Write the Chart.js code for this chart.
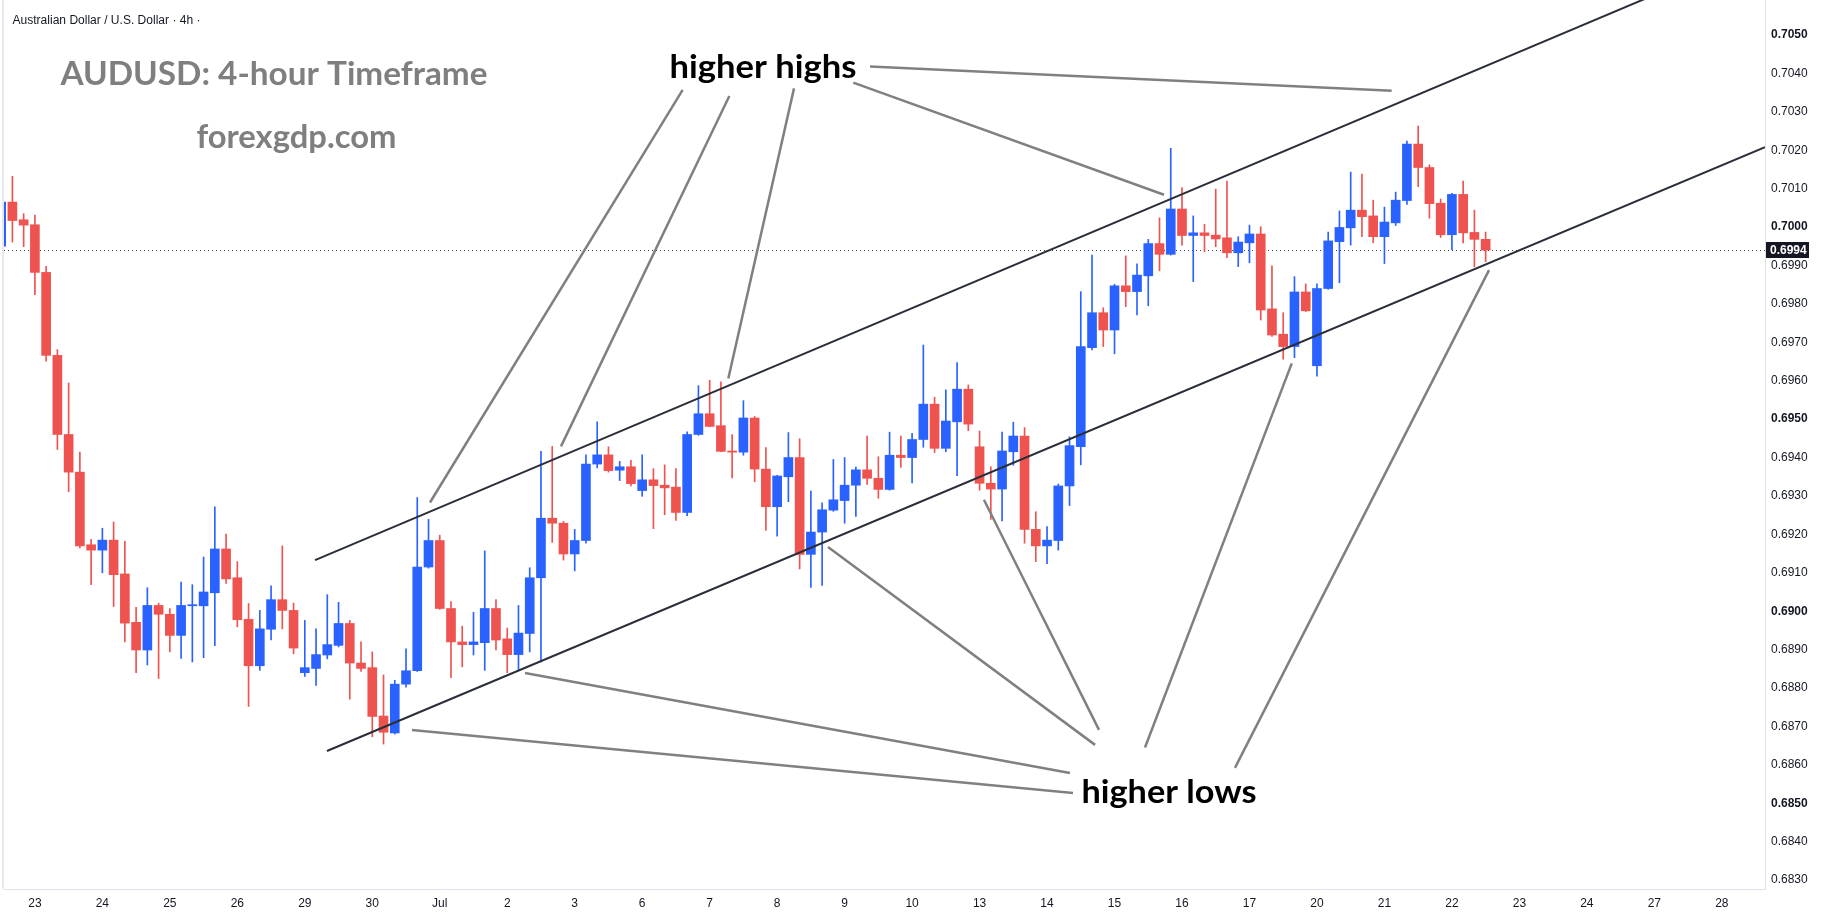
<!DOCTYPE html>
<html lang="en">
<head>
<meta charset="UTF-8">
<title>AUDUSD 4h</title>
<style>
    body { margin: 0; padding: 0; background: #fff; }
    #wrap { width: 1823px; height: 920px; }
</style>
</head>
<body>
<div id="wrap"><canvas id="chart" width="1823" height="920"></canvas></div>

<script src="https://cdn.jsdelivr.net/npm/chart.js"></script>
<script>
// bar numbers start at -1 (the candle cut by the left edge)
const firstBar = -1;

const opens = [
    0.69950, 0.70065, 0.70019, 0.70006, 0.69882, 0.69666, 0.69460, 0.69362, 0.69173, 0.69159,
    0.69185, 0.69097, 0.68971, 0.68899, 0.69015, 0.68992, 0.68937, 0.69014, 0.69014, 0.69048,
    0.69162, 0.69087, 0.68979, 0.68858, 0.68953, 0.69030, 0.69002, 0.68840, 0.68851, 0.68886,
    0.68911, 0.68968, 0.68865, 0.68853, 0.68727, 0.68683, 0.68810, 0.68845, 0.69115, 0.69184,
    0.69007, 0.68920, 0.68913, 0.68918, 0.69007, 0.68928, 0.68887, 0.68942, 0.69087, 0.69242,
    0.69229, 0.69149, 0.69184, 0.69383, 0.69407, 0.69367, 0.69376, 0.69314, 0.69342, 0.69328,
    0.69323, 0.69257, 0.69460, 0.69514, 0.69483, 0.69417, 0.69414, 0.69503, 0.69370, 0.69272,
    0.69350, 0.69400, 0.69148, 0.69206, 0.69263, 0.69288, 0.69328, 0.69368, 0.69346, 0.69317,
    0.69406, 0.69400, 0.69447, 0.69539, 0.69424, 0.69493, 0.69578, 0.69428, 0.69333, 0.69318,
    0.69415, 0.69456, 0.69213, 0.69170, 0.69184, 0.69326, 0.69428, 0.69686, 0.69777, 0.69732,
    0.69847, 0.69832, 0.69873, 0.69957, 0.69929, 0.70047, 0.69978, 0.69985, 0.69979, 0.69972,
    0.69933, 0.69959, 0.69982, 0.69787, 0.69721, 0.69689, 0.69831, 0.69639, 0.69840, 0.69962,
    0.69998, 0.70044, 0.70029, 0.69975, 0.70011, 0.70069, 0.70216, 0.70155, 0.70062, 0.69980,
    0.70085, 0.69986, 0.69968
];
const highs = [
    0.70075, 0.70132, 0.70035, 0.70031, 0.69898, 0.69681, 0.69594, 0.69414, 0.69187, 0.69216,
    0.69232, 0.69182, 0.69010, 0.69061, 0.69021, 0.69007, 0.69076, 0.69069, 0.69141, 0.69272,
    0.69201, 0.69129, 0.69020, 0.69002, 0.69066, 0.69170, 0.69021, 0.68976, 0.68954, 0.69043,
    0.69023, 0.68976, 0.68920, 0.68894, 0.68834, 0.68820, 0.68902, 0.69296, 0.69239, 0.69198,
    0.69025, 0.68961, 0.68997, 0.69157, 0.69030, 0.68956, 0.69015, 0.69113, 0.69416, 0.69429,
    0.69234, 0.69213, 0.69407, 0.69493, 0.69428, 0.69390, 0.69393, 0.69407, 0.69371, 0.69381,
    0.69371, 0.69467, 0.69587, 0.69601, 0.69597, 0.69460, 0.69548, 0.69507, 0.69426, 0.69354,
    0.69465, 0.69449, 0.69313, 0.69282, 0.69395, 0.69400, 0.69375, 0.69456, 0.69402, 0.69466,
    0.69456, 0.69463, 0.69693, 0.69557, 0.69576, 0.69647, 0.69589, 0.69469, 0.69376, 0.69466,
    0.69492, 0.69478, 0.69259, 0.69220, 0.69331, 0.69454, 0.69832, 0.69927, 0.69790, 0.69851,
    0.69925, 0.69904, 0.69968, 0.70024, 0.70205, 0.70103, 0.70029, 0.70007, 0.70099, 0.70120,
    0.69975, 0.70005, 0.70001, 0.69899, 0.69777, 0.69871, 0.69852, 0.69852, 0.69987, 0.70042,
    0.70143, 0.70138, 0.70070, 0.70052, 0.70091, 0.70224, 0.70263, 0.70162, 0.70073, 0.70088,
    0.70120, 0.70044, 0.69987
];
const lows = [
    0.69945, 0.69961, 0.69949, 0.69824, 0.69651, 0.69421, 0.69311, 0.69165, 0.69069, 0.69100,
    0.69012, 0.68920, 0.68840, 0.68860, 0.68825, 0.68894, 0.68877, 0.68868, 0.68879, 0.68910,
    0.69072, 0.68959, 0.68752, 0.68846, 0.68925, 0.68954, 0.68889, 0.68830, 0.68807, 0.68876,
    0.68907, 0.68771, 0.68843, 0.68673, 0.68654, 0.68680, 0.68802, 0.68843, 0.69112, 0.69005,
    0.68827, 0.68855, 0.68886, 0.68846, 0.68899, 0.68840, 0.68848, 0.68894, 0.68868, 0.69179,
    0.69133, 0.69105, 0.69177, 0.69373, 0.69362, 0.69340, 0.69326, 0.69299, 0.69215, 0.69251,
    0.69236, 0.69249, 0.69458, 0.69480, 0.69415, 0.69347, 0.69406, 0.69337, 0.69210, 0.69195,
    0.69285, 0.69110, 0.69062, 0.69067, 0.69260, 0.69229, 0.69247, 0.69330, 0.69294, 0.69315,
    0.69374, 0.69334, 0.69427, 0.69413, 0.69415, 0.69353, 0.69470, 0.69315, 0.69239, 0.69235,
    0.69380, 0.69177, 0.69129, 0.69124, 0.69159, 0.69275, 0.69381, 0.69680, 0.69689, 0.69670,
    0.69793, 0.69771, 0.69795, 0.69886, 0.69927, 0.69953, 0.69858, 0.69936, 0.69949, 0.69920,
    0.69897, 0.69907, 0.69758, 0.69715, 0.69656, 0.69660, 0.69780, 0.69612, 0.69838, 0.69855,
    0.69953, 0.69975, 0.69959, 0.69905, 0.70004, 0.70059, 0.70105, 0.70023, 0.69973, 0.69941,
    0.69959, 0.69897, 0.69910
];
const closes = [
    0.70065, 0.70017, 0.70005, 0.69882, 0.69666, 0.69460, 0.69362, 0.69170, 0.69159, 0.69185,
    0.69095, 0.68969, 0.68899, 0.69015, 0.68992, 0.68937, 0.69015, 0.69017, 0.69050, 0.69162,
    0.69084, 0.68978, 0.68858, 0.68954, 0.69030, 0.69002, 0.68904, 0.68853, 0.68887, 0.68913,
    0.68968, 0.68865, 0.68851, 0.68726, 0.68685, 0.68810, 0.68845, 0.69115, 0.69184, 0.69007,
    0.68920, 0.68913, 0.68920, 0.69007, 0.68925, 0.68887, 0.68943, 0.69087, 0.69242, 0.69229,
    0.69149, 0.69184, 0.69383, 0.69407, 0.69366, 0.69376, 0.69332, 0.69342, 0.69327, 0.69321,
    0.69257, 0.69460, 0.69514, 0.69481, 0.69416, 0.69414, 0.69503, 0.69370, 0.69272, 0.69352,
    0.69400, 0.69148, 0.69206, 0.69264, 0.69290, 0.69328, 0.69368, 0.69346, 0.69317, 0.69406,
    0.69400, 0.69447, 0.69539, 0.69424, 0.69495, 0.69578, 0.69487, 0.69333, 0.69318, 0.69417,
    0.69456, 0.69213, 0.69170, 0.69185, 0.69326, 0.69431, 0.69689, 0.69777, 0.69732, 0.69847,
    0.69832, 0.69875, 0.69957, 0.69929, 0.70047, 0.69978, 0.69985, 0.69978, 0.69969, 0.69933,
    0.69961, 0.69982, 0.69784, 0.69719, 0.69689, 0.69831, 0.69782, 0.69840, 0.69964, 0.69999,
    0.70044, 0.70027, 0.69975, 0.70013, 0.70070, 0.70216, 0.70155, 0.70061, 0.69980, 0.70085,
    0.69985, 0.69968, 0.69940
];
const lastPrice = 0.6994;

// time axis: first 4h bar of each day and its label
const dayBars = [2, 8, 14, 20, 26, 32, 38, 44, 50, 56, 62, 68, 74, 80, 86, 92, 98, 104, 110, 116, 122, 128, 134, 140, 146, 152];
const dayLabels = ['23', '24', '25', '26', '29', '30', 'Jul', '2', '3', '6', '7', '8', '9', '10', '13', '14', '15', '16', '17', '20', '21', '22', '23', '24', '27', '28'];

// visible ranges
const barMin = -0.747, barMax = 155.84;
const priceMin = 0.682768, priceMax = 0.705911;

// drawings, as [bar, price] pairs
const upperChannel = [[26.91, 0.69133], [155.84, 0.70726]];
const lowerChannel = [[27.97, 0.68636], [155.84, 0.70208]];
const highPointers = [
    [[59.60, 0.70357], [37.13, 0.69283]],
    [[63.75, 0.70341], [48.78, 0.69429]],
    [[69.50, 0.70361], [63.66, 0.69606]],
    [[74.77, 0.70376], [102.40, 0.70084]],
    [[76.26, 0.70418], [122.64, 0.70355]]
];
const lowPointers = [
    [[35.53, 0.68691], [94.31, 0.68527]],
    [[45.58, 0.68839], [94.04, 0.68579]],
    [[72.52, 0.69167], [96.27, 0.68652]],
    [[86.39, 0.69290], [96.62, 0.68691]],
    [[100.71, 0.68645], [113.76, 0.69645]],
    [[108.71, 0.68592], [131.30, 0.69888]]
];

const UP = '#2962FF', DOWN = '#EF5350';

const bars = opens.map((o, k) => firstBar + k);
const candleColors = opens.map((o, k) => closes[k] >= o ? UP : DOWN);
const wickData = bars.map((x, k) => ({x: x, y: [lows[k], highs[k]]}));
const bodyData = bars.map((x, k) => ({x: x, y: [opens[k], closes[k]]}));

function segment(pts, color, width) {
    return {
        type: 'line',
        data: pts.map(p => ({x: p[0], y: p[1]})),
        borderColor: color,
        borderWidth: width,
        pointRadius: 0,
        fill: false,
        tension: 0,
        order: 0
    };
}

function fitText(ctx, text, x, baseline, width, font, color) {
    ctx.save();
    ctx.font = font;
    ctx.fillStyle = color;
    ctx.textAlign = 'left';
    ctx.textBaseline = 'alphabetic';
    const w = ctx.measureText(text).width;
    ctx.translate(x, baseline);
    ctx.scale(width / w, 1);
    ctx.fillText(text, 0, 0);
    ctx.restore();
}

const overlay = {
    id: 'overlay',
    beforeDatasetsDraw(chart) {
        const {ctx, chartArea} = chart;
        const yp = Math.round(chart.scales.y.getPixelForValue(lastPrice)) + 0.5;
        ctx.save();
        ctx.strokeStyle = '#3b3f4a';
        ctx.lineWidth = 1;
        ctx.setLineDash([1, 3]);
        ctx.beginPath();
        ctx.moveTo(chartArea.left, yp);
        ctx.lineTo(chartArea.right, yp);
        ctx.stroke();
        ctx.restore();
    },
    afterDraw(chart) {
        const {ctx, chartArea} = chart;
        const yScale = chart.scales.y;

        // pane left edge
        ctx.save();
        ctx.fillStyle = '#E6E9F0';
        ctx.fillRect(2, 0, 2, chartArea.bottom);
        ctx.restore();

        // last price tag
        const yp = Math.round(yScale.getPixelForValue(lastPrice));
        ctx.save();
        ctx.fillStyle = '#131722';
        ctx.fillRect(yScale.left + 1, yp - 8, 43, 16);
        ctx.fillStyle = '#ffffff';
        ctx.font = 'bold 12px "Liberation Sans"';
        ctx.textBaseline = 'middle';
        ctx.fillText(lastPrice.toFixed(4), yScale.left + 5, yp + 1);
        ctx.restore();

        fitText(ctx, 'Australian Dollar / U.S. Dollar \u00b7 4h \u00b7', 12.5, 24, 188, '12px "Liberation Sans"', '#131722');
        fitText(ctx, 'AUDUSD: 4-hour Timeframe', 60.5, 84.5, 427, 'bold 32px Lato', '#7f7f7f');
        fitText(ctx, 'forexgdp.com', 196.5, 147.5, 200, 'bold 32px Lato', '#7f7f7f');
        fitText(ctx, 'higher highs', 669.5, 77.5, 187, 'bold 33px Lato', '#000000');
        fitText(ctx, 'higher lows', 1081.5, 803, 175, 'bold 33px Lato', '#000000');
    }
};

const datasets = [
    segment(upperChannel, '#2a2e39', 2),
    segment(lowerChannel, '#2a2e39', 2)
];
highPointers.concat(lowPointers).forEach(p => datasets.push(segment(p, '#808080', 2.5)));
datasets.push({
    type: 'bar',
    data: bodyData,
    backgroundColor: candleColors,
    barThickness: 9,
    minBarLength: 1,
    grouped: false,
    order: 1
});
datasets.push({
    type: 'bar',
    data: wickData,
    backgroundColor: candleColors,
    barThickness: 1,
    grouped: false,
    order: 2
});

new Chart(document.getElementById('chart'), {
    type: 'bar',
    data: { datasets: datasets },
    plugins: [overlay],
    options: {
        responsive: false,
        animation: false,
        devicePixelRatio: 1,
        layout: { padding: { left: 4, top: 0, right: 0, bottom: 0 } },
        plugins: {
            legend: { display: false },
            tooltip: { enabled: false }
        },
        scales: {
            x: {
                type: 'linear',
                min: barMin,
                max: barMax,
                offset: false,
                grid: { display: false, drawTicks: false },
                border: { display: true, color: '#E0E3EB' },
                afterBuildTicks: s => { s.ticks = dayBars.map(v => ({value: v})); },
                afterFit: s => { s.height = 31; s.paddingLeft = 0; s.paddingRight = 0; },
                ticks: {
                    autoSkip: false,
                    maxRotation: 0,
                    minRotation: 0,
                    padding: 7,
                    color: '#131722',
                    font: { size: 12, family: '"Liberation Sans"' },
                    callback: (v, k) => dayLabels[k]
                }
            },
            y: {
                type: 'linear',
                position: 'right',
                min: priceMin,
                max: priceMax,
                beginAtZero: false,
                grid: { display: false, drawTicks: false },
                border: { display: true, color: '#E0E3EB' },
                afterFit: s => { s.width = 58; s.paddingTop = 0; s.paddingBottom = 0; },
                ticks: {
                    stepSize: 0.001,
                    includeBounds: false,
                    padding: 6,
                    color: '#131722',
                    font: c => ({
                        size: 12,
                        family: '"Liberation Sans"',
                        weight: (c.tick && Math.round(c.tick.value * 10000) % 50 === 0) ? 'bold' : 'normal'
                    }),
                    callback: v => v.toFixed(4)
                }
            }
        }
    }
});
</script>
</body>
</html>
